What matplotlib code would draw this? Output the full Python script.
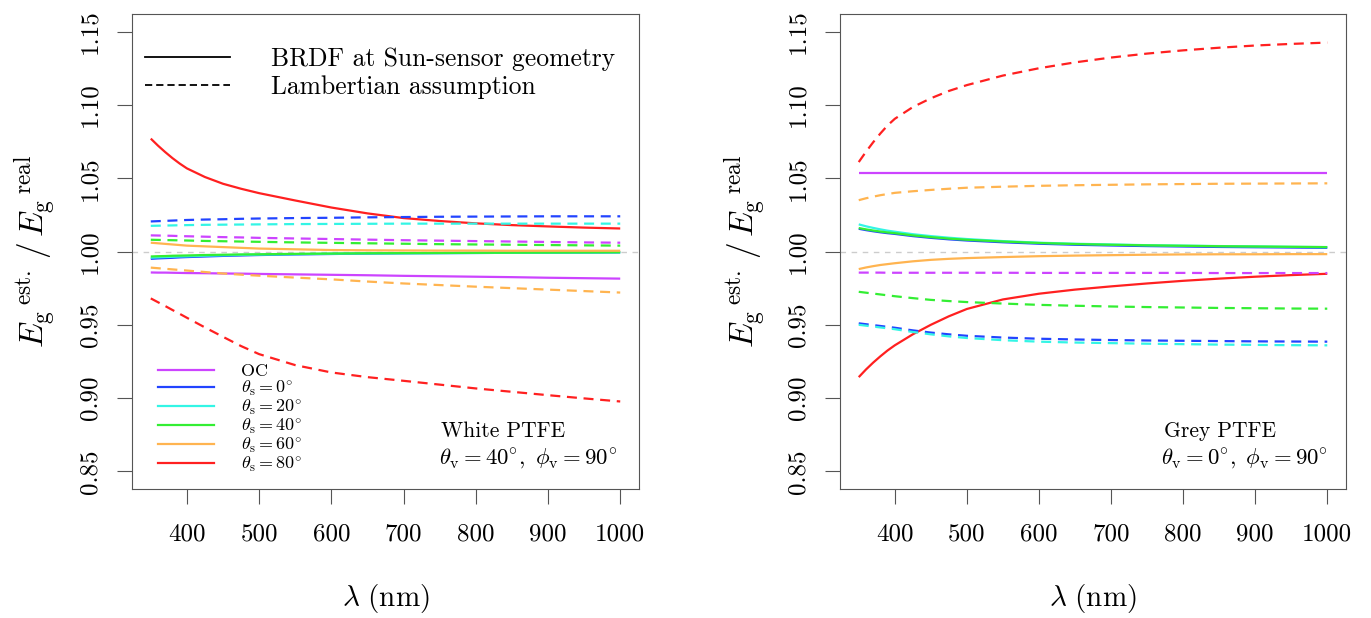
import matplotlib
matplotlib.use("Agg")
import matplotlib.pyplot as plt
from matplotlib.lines import Line2D

plt.rcParams['font.family'] = ['cmr10', 'DejaVu Serif']
plt.rcParams['mathtext.fontset'] = 'cm'
plt.rcParams['axes.unicode_minus'] = False
plt.rcParams['axes.formatter.use_mathtext'] = True

# ---------------- data ----------------
wl = [350, 360, 370, 380, 390, 400, 425, 450, 475, 500, 550, 600, 650, 700, 750, 800, 850, 900, 950, 1000]

series_names = ['OC', '0', '20', '40', '60', '80']
colors = ['#CC44FF', '#2244FF', '#33F5E5', '#33EE33', '#FFB450', '#FF2020']

# White PTFE (left panel) - BRDF at Sun-sensor geometry (solid)
L_oc_s = [0.9857, 0.9856, 0.9856, 0.9855, 0.9854, 0.9853, 0.9852, 0.9850, 0.9849, 0.9847, 0.9844, 0.9841, 0.9838, 0.9834, 0.9831, 0.9828, 0.9825, 0.9821, 0.9818, 0.9815]
L_s0_s = [0.9950, 0.9953, 0.9955, 0.9957, 0.9960, 0.9962, 0.9966, 0.9970, 0.9973, 0.9976, 0.9980, 0.9983, 0.9986, 0.9988, 0.9989, 0.9990, 0.9991, 0.9992, 0.9993, 0.9994]
L_s20_s = [0.9958, 0.9960, 0.9962, 0.9964, 0.9966, 0.9967, 0.9971, 0.9974, 0.9977, 0.9979, 0.9982, 0.9985, 0.9987, 0.9988, 0.9989, 0.9990, 0.9991, 0.9992, 0.9993, 0.9994]
L_s40_s = [0.9966, 0.9968, 0.9969, 0.9971, 0.9972, 0.9973, 0.9976, 0.9978, 0.9980, 0.9981, 0.9984, 0.9986, 0.9988, 0.9989, 0.9990, 0.9991, 0.9992, 0.9993, 0.9994, 0.9995]
L_s60_s = [1.0060, 1.0056, 1.0052, 1.0048, 1.0044, 1.0040, 1.0035, 1.0030, 1.0025, 1.0020, 1.0015, 1.0010, 1.0008, 1.0007, 1.0006, 1.0006, 1.0005, 1.0005, 1.0005, 1.0005]
L_s80_s = [1.0770, 1.0722, 1.0678, 1.0637, 1.0600, 1.0567, 1.0508, 1.0462, 1.0428, 1.0398, 1.0348, 1.0300, 1.0260, 1.0228, 1.0208, 1.0192, 1.0180, 1.0171, 1.0163, 1.0157]
# White PTFE - Lambertian assumption (dashed)
L_oc_d = [1.0110, 1.0109, 1.0108, 1.0107, 1.0105, 1.0104, 1.0101, 1.0098, 1.0096, 1.0093, 1.0089, 1.0085, 1.0081, 1.0077, 1.0074, 1.0071, 1.0068, 1.0065, 1.0062, 1.0060]
L_s0_d = [1.0205, 1.0207, 1.0209, 1.0211, 1.0213, 1.0215, 1.0218, 1.0220, 1.0223, 1.0225, 1.0228, 1.0230, 1.0233, 1.0235, 1.0237, 1.0238, 1.0239, 1.0240, 1.0240, 1.0240]
L_s20_d = [1.0175, 1.0176, 1.0177, 1.0178, 1.0179, 1.0180, 1.0182, 1.0183, 1.0184, 1.0185, 1.0187, 1.0188, 1.0189, 1.0190, 1.0190, 1.0190, 1.0190, 1.0190, 1.0190, 1.0190]
L_s40_d = [1.0080, 1.0079, 1.0078, 1.0077, 1.0076, 1.0075, 1.0072, 1.0070, 1.0068, 1.0066, 1.0062, 1.0059, 1.0056, 1.0053, 1.0050, 1.0048, 1.0046, 1.0044, 1.0042, 1.0040]
L_s60_d = [0.9890, 0.9886, 0.9882, 0.9878, 0.9874, 0.9870, 0.9860, 0.9850, 0.9842, 0.9835, 0.9822, 0.9810, 0.9795, 0.9782, 0.9771, 0.9760, 0.9750, 0.9740, 0.9730, 0.9720]
L_s80_d = [0.9680, 0.9654, 0.9628, 0.9601, 0.9575, 0.9548, 0.9482, 0.9418, 0.9355, 0.9300, 0.9225, 0.9175, 0.9143, 0.9118, 0.9092, 0.9066, 0.9043, 0.9020, 0.8998, 0.8977]

# Grey PTFE (right panel) - solid
R_oc_s = [1.0533, 1.0533, 1.0533, 1.0533, 1.0533, 1.0533, 1.0533, 1.0533, 1.0533, 1.0533, 1.0533, 1.0533, 1.0533, 1.0533, 1.0533, 1.0533, 1.0533, 1.0533, 1.0533, 1.0533]
R_s0_s = [1.0155, 1.0146, 1.0138, 1.0131, 1.0125, 1.0120, 1.0105, 1.0093, 1.0083, 1.0075, 1.0063, 1.0053, 1.0046, 1.0041, 1.0037, 1.0034, 1.0031, 1.0029, 1.0027, 1.0025]
R_s20_s = [1.0185, 1.0172, 1.0161, 1.0151, 1.0142, 1.0135, 1.0118, 1.0105, 1.0094, 1.0085, 1.0071, 1.0060, 1.0053, 1.0048, 1.0043, 1.0040, 1.0037, 1.0035, 1.0032, 1.0030]
R_s40_s = [1.0160, 1.0151, 1.0143, 1.0136, 1.0130, 1.0125, 1.0110, 1.0098, 1.0088, 1.0080, 1.0068, 1.0058, 1.0051, 1.0046, 1.0042, 1.0039, 1.0036, 1.0034, 1.0032, 1.0030]
R_s60_s = [0.9880, 0.9891, 0.9900, 0.9908, 0.9914, 0.9920, 0.9933, 0.9943, 0.9950, 0.9955, 0.9962, 0.9968, 0.9972, 0.9975, 0.9978, 0.9980, 0.9981, 0.9981, 0.9982, 0.9982]
R_s80_s = [0.9143, 0.9195, 0.9242, 0.9285, 0.9325, 0.9360, 0.9435, 0.9500, 0.9558, 0.9608, 0.9673, 0.9712, 0.9740, 0.9762, 0.9782, 0.9800, 0.9815, 0.9828, 0.9839, 0.9848]
# Grey PTFE - dashed
R_oc_d = [0.9856, 0.9856, 0.9856, 0.9856, 0.9855, 0.9855, 0.9855, 0.9855, 0.9855, 0.9855, 0.9855, 0.9854, 0.9854, 0.9854, 0.9854, 0.9854, 0.9853, 0.9853, 0.9853, 0.9853]
R_s0_d = [0.9510, 0.9504, 0.9498, 0.9492, 0.9486, 0.9480, 0.9462, 0.9447, 0.9435, 0.9425, 0.9413, 0.9405, 0.9400, 0.9396, 0.9393, 0.9391, 0.9389, 0.9387, 0.9386, 0.9385]
R_s20_d = [0.9500, 0.9494, 0.9488, 0.9482, 0.9476, 0.9470, 0.9451, 0.9435, 0.9421, 0.9410, 0.9395, 0.9385, 0.9379, 0.9375, 0.9371, 0.9368, 0.9365, 0.9363, 0.9361, 0.9360]
R_s40_d = [0.9725, 0.9719, 0.9713, 0.9707, 0.9701, 0.9695, 0.9682, 0.9670, 0.9662, 0.9655, 0.9645, 0.9636, 0.9630, 0.9625, 0.9621, 0.9618, 0.9615, 0.9613, 0.9611, 0.9610]
R_s60_d = [1.0350, 1.0363, 1.0374, 1.0384, 1.0392, 1.0400, 1.0411, 1.0420, 1.0428, 1.0435, 1.0442, 1.0448, 1.0452, 1.0455, 1.0458, 1.0460, 1.0462, 1.0463, 1.0464, 1.0465]
R_s80_d = [1.0610, 1.0680, 1.0745, 1.0805, 1.0860, 1.0905, 1.0985, 1.1045, 1.1095, 1.1135, 1.1200, 1.1250, 1.1290, 1.1323, 1.1350, 1.1372, 1.1390, 1.1405, 1.1416, 1.1425]

left_solid = [L_oc_s, L_s0_s, L_s20_s, L_s40_s, L_s60_s, L_s80_s]
left_dashed = [L_oc_d, L_s0_d, L_s20_d, L_s40_d, L_s60_d, L_s80_d]
right_solid = [R_oc_s, R_s0_s, R_s20_s, R_s40_s, R_s60_s, R_s80_s]
right_dashed = [R_oc_d, R_s0_d, R_s20_d, R_s40_d, R_s60_d, R_s80_d]

yticks = [0.85, 0.90, 0.95, 1.00, 1.05, 1.10, 1.15]
ytick_labels = ['0.85', '0.90', '0.95', '1.00', '1.05', '1.10', '1.15']
xticks = [400, 500, 600, 700, 800, 900, 1000]
xtick_labels = ['400', '500', '600', '700', '800', '900', '1000']

legend_labels = ['OC'] + [r'$\theta_{\mathrm{s}}=%s^{\circ}$' % n for n in series_names[1:]]

# ---------------- figure ----------------
W, H = 1371, 618
fig = plt.figure(figsize=(W / 100, H / 100), dpi=100)
ax1 = fig.add_axes([132 / W, (H - 489) / H, 507 / W, 475 / H])
ax2 = fig.add_axes([840 / W, (H - 489) / H, 506 / W, 475 / H])

DASH = (0, (4.5, 3))

for ax, solid, dashed in [(ax1, left_solid, left_dashed), (ax2, right_solid, right_dashed)]:
    ax.axhline(1.0, color='#cccccc', lw=1.0, ls=(0, (4, 4)), zorder=1)
    for c, ys in zip(colors, solid):
        ax.plot(wl, ys, color=c, lw=1.6, solid_capstyle='butt', zorder=2)
    for c, ys in zip(colors, dashed):
        ax.plot(wl, ys, color=c, lw=1.6, ls=DASH, zorder=2)
    ax.set_xlim(324, 1026)
    ax.set_ylim(0.838, 1.162)
    ax.set_xticks(xticks)
    ax.set_xticklabels(xtick_labels)
    ax.set_yticks(yticks)
    ax.set_yticklabels(ytick_labels, rotation=90, va='center')
    ax.tick_params(axis='both', direction='out', length=11, width=0.8, color='#555555',
                   labelsize=18)
    ax.tick_params(axis='x', pad=14)
    ax.tick_params(axis='y', pad=11)
    for sp in ax.spines.values():
        sp.set_color('#555555')
        sp.set_linewidth(0.8)
    ax.set_xlabel(r'$\lambda\ (\mathrm{nm})$', fontsize=21, va='center')
    ax.set_ylabel(r'$E_{\mathrm{g}}{}^{\,\mathrm{est.}}\,/\,E_{\mathrm{g}}{}^{\,\mathrm{real}}$',
                  fontsize=24, va='center')

ax1.xaxis.set_label_coords(0.5, -0.2295)
ax2.xaxis.set_label_coords(0.5, -0.2295)
ax1.yaxis.set_label_coords(-0.191, 0.5)
ax2.yaxis.set_label_coords(-0.188, 0.5)

# line-type legend (left panel)
type_handles = [Line2D([], [], color='black', lw=1.3),
                Line2D([], [], color='black', lw=1.3, ls=(0, (4, 2.2)))]
leg1 = ax1.legend(type_handles, ['BRDF at Sun-sensor geometry', 'Lambertian assumption'],
                  loc='upper left', bbox_to_anchor=(0.025, 0.93), frameon=False,
                  fontsize=18.4, handlelength=3.35, handletextpad=1.6, labelspacing=0.17,
                  borderpad=0, borderaxespad=0)
ax1.add_artist(leg1)

col_handles = [Line2D([], [], color=c, lw=1.6) for c in colors]
ax1.legend(col_handles, legend_labels, loc='upper left', bbox_to_anchor=(0.052, 0.264),
           frameon=False, fontsize=13, handlelength=3.1, handletextpad=1.5,
           labelspacing=-0.03, borderpad=0, borderaxespad=0)

# annotations
ax1.text(0.61, 0.122, 'White PTFE', transform=ax1.transAxes, fontsize=15.5, va='center', ha='left')
ax1.text(0.605, 0.065, r'$\theta_{\mathrm{v}}=40^{\circ},\ \phi_{\mathrm{v}}=90^{\circ}$',
         transform=ax1.transAxes, fontsize=16.4, va='center', ha='left')
ax2.text(0.64, 0.122, 'Grey PTFE', transform=ax2.transAxes, fontsize=15.5, va='center', ha='left')
ax2.text(0.635, 0.065, r'$\theta_{\mathrm{v}}=0^{\circ},\ \phi_{\mathrm{v}}=90^{\circ}$',
         transform=ax2.transAxes, fontsize=16.4, va='center', ha='left')

fig.savefig('out.png', dpi=100)
